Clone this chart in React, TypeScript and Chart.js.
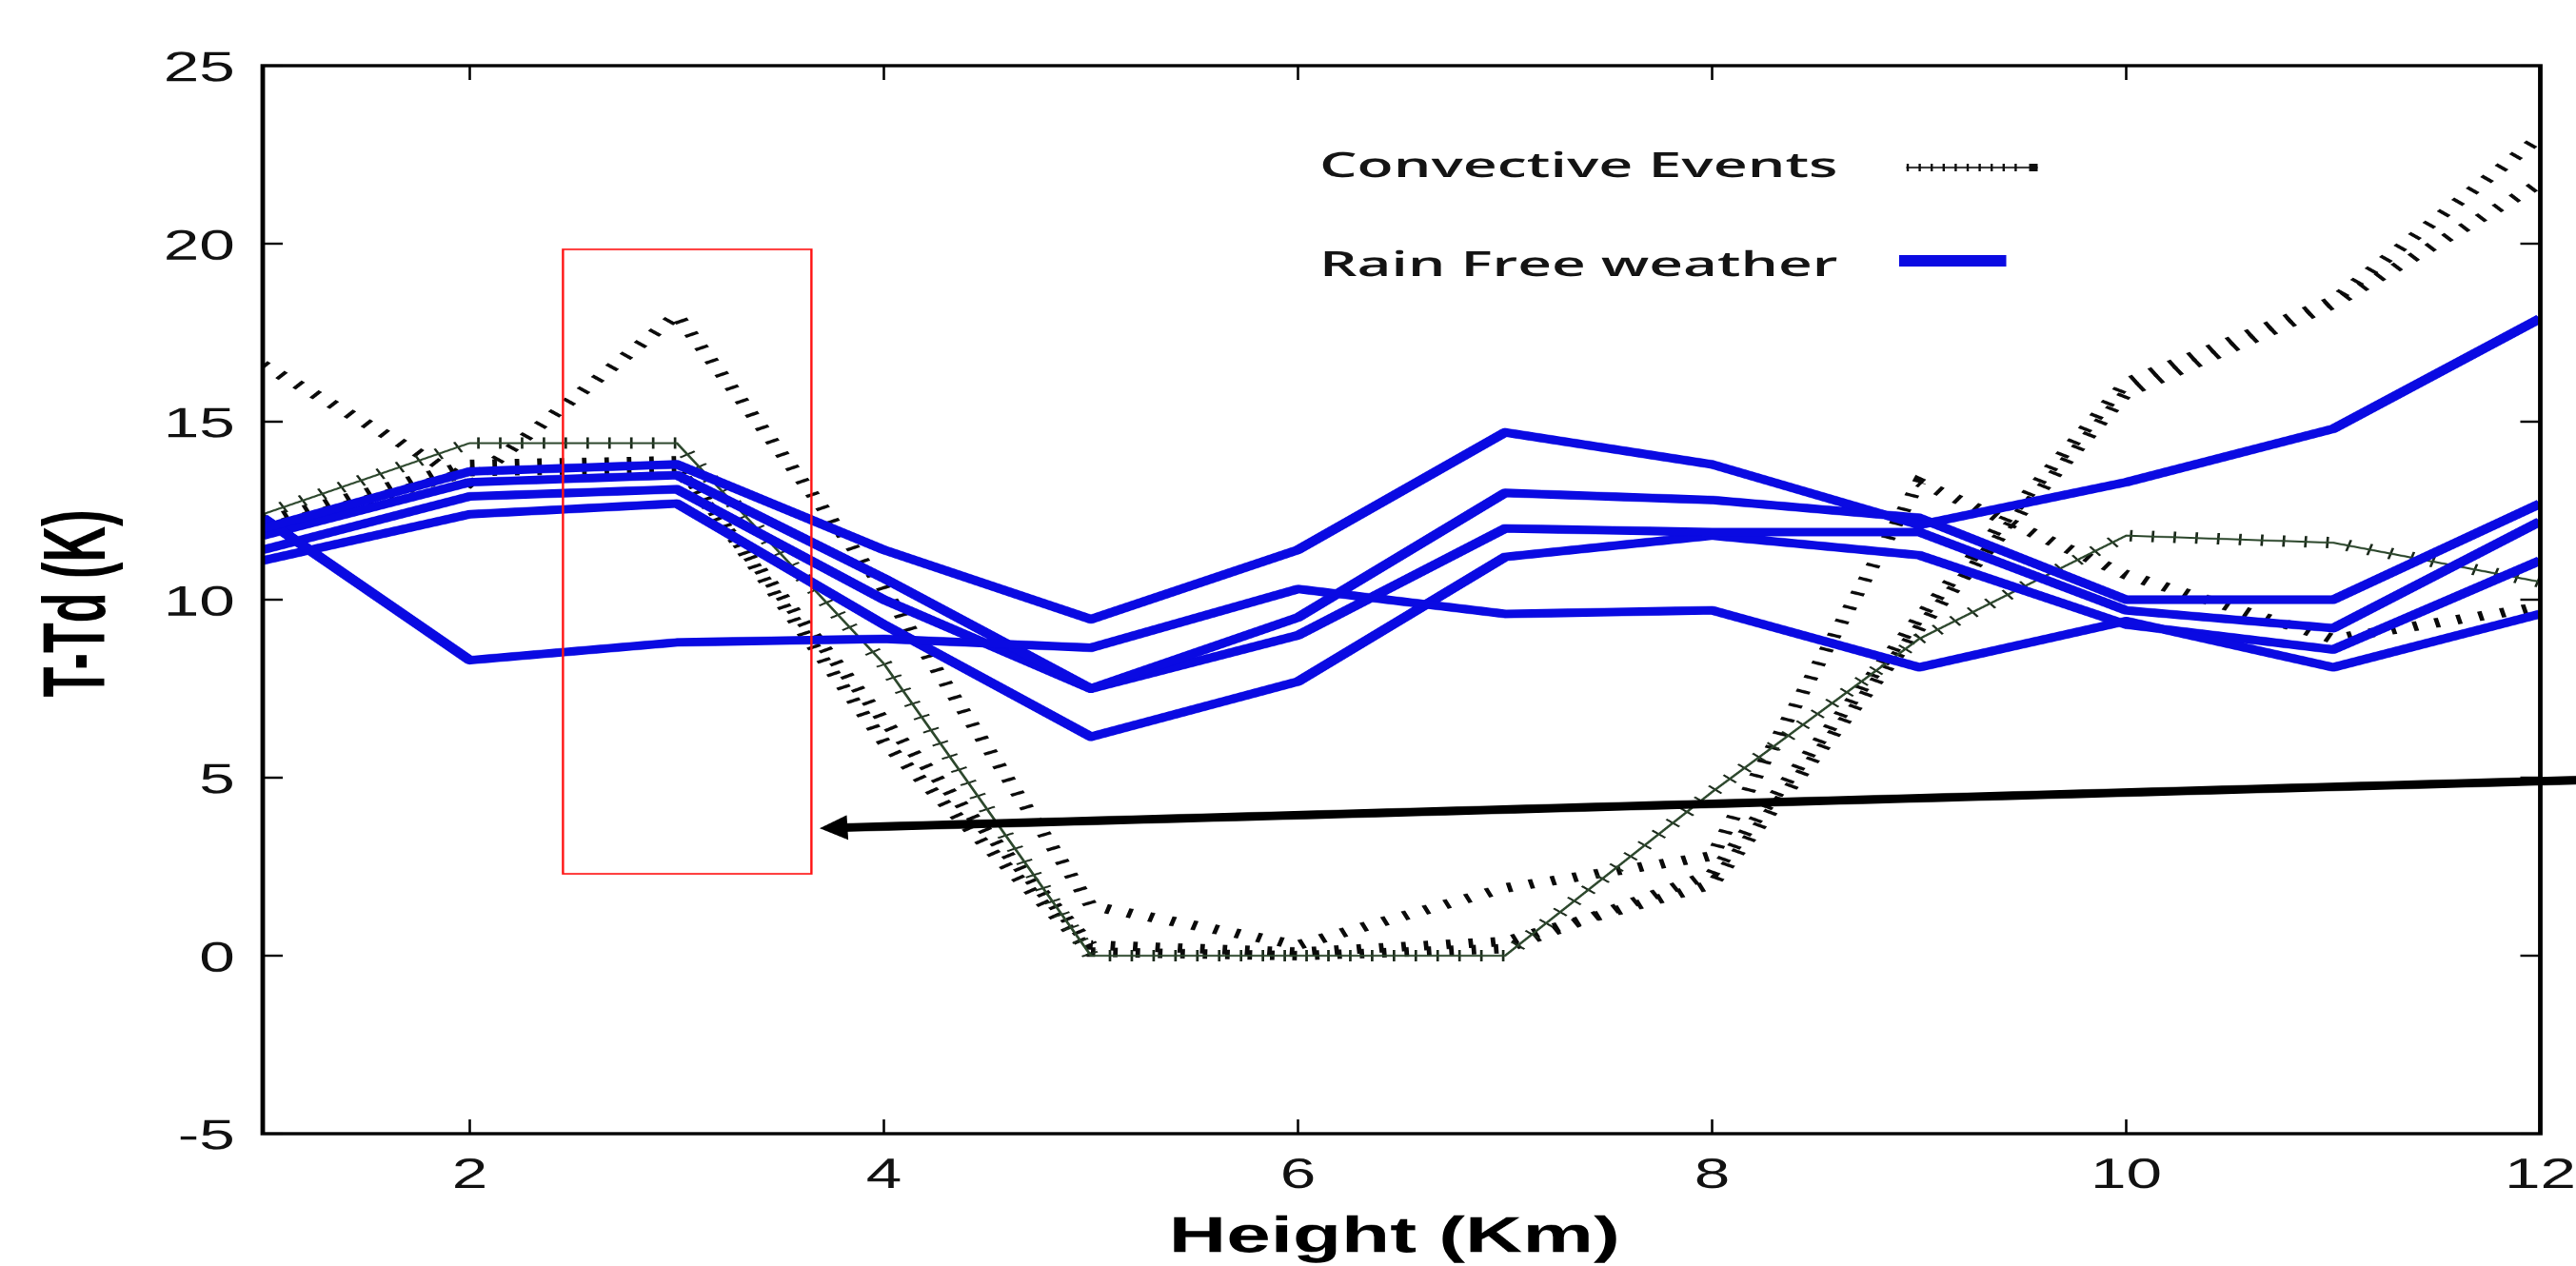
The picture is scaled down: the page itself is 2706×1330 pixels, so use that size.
import React, { useEffect, useRef } from 'react';
import { Chart, registerables } from 'chart.js';

Chart.register(...registerables);

// ---------- data ----------
const HEIGHTS = [1, 2, 3, 4, 5, 6, 7, 8, 9, 10, 11, 12];

// Rain free weather profiles (blue)
const RAIN_FREE_1 = [12.0, 13.6, 13.8, 11.4, 9.45, 11.4, 14.7, 13.8, 12.1, 13.3, 14.8, 17.9];
const RAIN_FREE_2 = [12.3, 8.3, 8.8, 8.9, 8.65, 10.3, 9.6, 9.7, 8.1, 9.4, 8.1, 9.6];
const RAIN_FREE_3 = [11.8, 13.3, 13.5, 10.6, 7.5, 9.5, 13.0, 12.8, 12.3, 10.0, 10.0, 12.7];
const RAIN_FREE_4 = [11.4, 12.9, 13.1, 10.0, 7.5, 9.0, 12.0, 11.9, 11.9, 9.7, 9.2, 12.2];
const RAIN_FREE_5 = [11.1, 12.4, 12.7, 9.3, 6.15, 7.7, 11.2, 11.8, 11.25, 9.3, 8.6, 11.1];

// Convective events profiles (black hatched + green crossed)
const CONVECTIVE_A = [16.6, 13.3, 18.0, 10.3, 1.4, 0.3, 1.9, 2.8, 13.3, 10.7, 8.9, 9.8];
const CONVECTIVE_B = [12.2, 13.8, 13.9, 6.0, 0.1, 0.0, 0.2, 2.3, 9.5, 16.1, 18.4, 23.0];
const CONVECTIVE_C = [12.0, 13.6, 13.7, 6.6, 0.3, 0.1, 0.4, 2.0, 9.2, 15.8, 18.3, 21.7];
const CONVECTIVE_G = [12.4, 14.4, 14.4, 8.2, 0.0, 0.0, 0.0, 4.6, 8.9, 11.8, 11.6, 10.5];

const X_TICKS = [2, 4, 6, 8, 10, 12];
const Y_TICKS = [-5, 0, 5, 10, 15, 20, 25];
const X_RANGE = [1, 12];
const Y_RANGE = [-5, 25];

const X_TITLE = 'Height (Km)';
const Y_TITLE = 'T-Td (K)';
const LEGEND_LABELS = ['Convective Events', 'Rain Free weather'];

// annotation (data coordinates)
const BOX_X = [2.45, 3.65];
const BOX_Y = [2.3, 19.84];
const ARROW_TAIL = [12.3, 4.95];
const ARROW_TIP = [3.69, 3.58];

// ---------- styling ----------
const STRETCH = 1.5;
const FULL_W = 2706;
const H = 1330;
const W = FULL_W / STRETCH; // 1804 logical
const BLUE = 'rgb(10,10,226)';

const toPts = (ys: number[]) => HEIGHTS.map((h, i) => ({ x: h, y: ys[i] }));

const blueSet = (label: string, ys: number[]) => ({
  label,
  data: toPts(ys),
  borderColor: BLUE,
  backgroundColor: BLUE,
  borderWidth: 9,
  borderJoinStyle: 'round' as const,
  pointRadius: 0,
  order: 0,
});

const hatchSet = (label: string, ys: number[]) => ({
  label,
  data: toPts(ys),
  borderColor: '#0a0a0a',
  borderWidth: 10,
  borderDash: [3.2, 12.5],
  borderCapStyle: 'butt' as const,
  pointRadius: 0,
  order: 3,
});

function line(ctx: CanvasRenderingContext2D, x0: number, y0: number, x1: number, y1: number) {
  ctx.beginPath();
  ctx.moveTo(x0, y0);
  ctx.lineTo(x1, y1);
  ctx.stroke();
}

function fitText(
  ctx: CanvasRenderingContext2D,
  text: string,
  x: number,
  baseline: number,
  width: number,
  align: CanvasTextAlign
) {
  const m = ctx.measureText(text).width;
  ctx.save();
  ctx.translate(x, baseline);
  ctx.scale(width / m, 1);
  ctx.textAlign = align;
  ctx.textBaseline = 'alphabetic';
  ctx.fillText(text, 0, 0);
  ctx.restore();
}

const decor = {
  id: 'decor',
  afterDraw(chart: any) {
    const { ctx, chartArea: a, scales } = chart;
    const xs = scales.x;
    const ys = scales.y;
    ctx.save();

    // red highlight box
    ctx.strokeStyle = '#ff1414';
    ctx.lineWidth = 1.6;
    const bx0 = xs.getPixelForValue(BOX_X[0]);
    const bx1 = xs.getPixelForValue(BOX_X[1]);
    const by0 = ys.getPixelForValue(BOX_Y[1]);
    const by1 = ys.getPixelForValue(BOX_Y[0]);
    ctx.strokeRect(bx0, by0, bx1 - bx0, by1 - by0);

    // arrow
    const tx = xs.getPixelForValue(ARROW_TIP[0]);
    const ty = ys.getPixelForValue(ARROW_TIP[1]);
    const sx = xs.getPixelForValue(ARROW_TAIL[0]);
    const sy = ys.getPixelForValue(ARROW_TAIL[1]);
    const dx = sx - tx;
    const dy = sy - ty;
    const len = Math.hypot(dx, dy);
    const ux = dx / len;
    const uy = dy / len;
    const headL = 19.5;
    const headW = 13;
    ctx.strokeStyle = '#000';
    ctx.fillStyle = '#000';
    ctx.lineWidth = 9;
    line(ctx, tx + ux * headL * 0.8, ty + uy * headL * 0.8, sx, sy);
    ctx.beginPath();
    ctx.moveTo(tx, ty);
    ctx.lineTo(tx + ux * headL - uy * headW, ty + uy * headL + ux * headW);
    ctx.lineTo(tx + ux * headL + uy * headW, ty + uy * headL - ux * headW);
    ctx.closePath();
    ctx.fill();

    // frame
    ctx.strokeStyle = '#000';
    ctx.lineWidth = 3.2;
    ctx.strokeRect(a.left, a.top, a.right - a.left, a.bottom - a.top);

    // ticks
    ctx.lineWidth = 2.4;
    for (const v of Y_TICKS) {
      const py = ys.getPixelForValue(v);
      line(ctx, a.left, py, a.left + 14, py);
      line(ctx, a.right, py, a.right - 14, py);
    }
    ctx.lineWidth = 1.7;
    for (const v of X_TICKS) {
      const px = xs.getPixelForValue(v);
      line(ctx, px, a.bottom, px, a.bottom - 15);
      line(ctx, px, a.top, px, a.top + 15);
    }

    // tick labels
    ctx.fillStyle = '#111';
    ctx.font = '45px "Liberation Sans", Arial, sans-serif';
    ctx.textBaseline = 'alphabetic';
    ctx.textAlign = 'right';
    for (const v of Y_TICKS) {
      ctx.fillText(String(v), a.left - 19.5, ys.getPixelForValue(v) + 16.5);
    }
    ctx.textAlign = 'center';
    for (const v of X_TICKS) {
      ctx.fillText(String(v), xs.getPixelForValue(v), a.bottom + 57);
    }

    // x title
    ctx.fillStyle = '#000';
    ctx.font = 'bold 53px "Liberation Sans", Arial, sans-serif';
    fitText(ctx, X_TITLE, (a.left + a.right) / 2 - 5, a.bottom + 124, 316, 'center');

    // y title (rotated)
    ctx.save();
    ctx.translate(73.3, 634);
    ctx.rotate(-Math.PI / 2);
    ctx.font = 'bold 52px "Liberation Sans", Arial, sans-serif';
    const ym = ctx.measureText(Y_TITLE).width;
    ctx.scale(197 / ym, 44.6 / (0.716 * 52));
    ctx.textAlign = 'center';
    ctx.textBaseline = 'alphabetic';
    ctx.fillText(Y_TITLE, 0, 0);
    ctx.restore();

    // legend
    ctx.fillStyle = '#141414';
    ctx.font = '600 36px "Open Sans", "Noto Sans", sans-serif';
    fitText(ctx, LEGEND_LABELS[0], 924, 186, 363, 'left');
    fitText(ctx, LEGEND_LABELS[1], 924, 290, 363, 'left');

    ctx.strokeStyle = '#101010';
    ctx.lineWidth = 1.8;
    line(ctx, 1335, 176, 1427, 176);
    ctx.lineWidth = 1.6;
    for (let xx = 1336; xx <= 1420; xx += 8.4) line(ctx, xx, 172, xx, 180);
    ctx.fillStyle = '#101010';
    ctx.fillRect(1421, 172, 6, 8);

    ctx.strokeStyle = BLUE;
    ctx.lineWidth = 12;
    line(ctx, 1330, 274, 1405, 274);

    ctx.restore();
  },
};

export default function App() {
  const ref = useRef<HTMLCanvasElement | null>(null);

  useEffect(() => {
    document.body.style.margin = '0';
    const canvas = ref.current;
    if (!canvas) return;
    const chart = new Chart(canvas, {
      type: 'line',
      data: {
        datasets: [
          blueSet(LEGEND_LABELS[1], RAIN_FREE_1),
          blueSet(LEGEND_LABELS[1], RAIN_FREE_2),
          blueSet(LEGEND_LABELS[1], RAIN_FREE_3),
          blueSet(LEGEND_LABELS[1], RAIN_FREE_4),
          blueSet(LEGEND_LABELS[1], RAIN_FREE_5),
          {
            label: LEGEND_LABELS[0],
            data: toPts(CONVECTIVE_G),
            borderColor: '#2c472c',
            borderWidth: 2,
            pointRadius: 0,
            order: 1,
          },
          {
            label: LEGEND_LABELS[0],
            data: toPts(CONVECTIVE_G),
            borderColor: '#1b291b',
            borderWidth: 12,
            borderDash: [1.8, 13.5],
            borderCapStyle: 'butt',
            pointRadius: 0,
            order: 1,
          },
          hatchSet(LEGEND_LABELS[0], CONVECTIVE_A),
          hatchSet(LEGEND_LABELS[0], CONVECTIVE_B),
          hatchSet(LEGEND_LABELS[0], CONVECTIVE_C),
        ] as any,
      },
      options: {
        animation: false,
        responsive: false,
        devicePixelRatio: 1.5,
        events: [],
        layout: { padding: { left: 184, right: 25, top: 69, bottom: 139 } },
        scales: {
          x: { type: 'linear', min: X_RANGE[0], max: X_RANGE[1], display: false },
          y: { type: 'linear', min: Y_RANGE[0], max: Y_RANGE[1], display: false },
        },
        plugins: { legend: { display: false }, tooltip: { enabled: false } },
        elements: { point: { radius: 0 }, line: { tension: 0 } },
      },
      plugins: [decor],
    });
    return () => chart.destroy();
  }, []);

  return (
    <div style={{ width: FULL_W, height: H, overflow: 'hidden', background: '#fff' }}>
      <div style={{ width: W, height: H, transform: `scaleX(${STRETCH})`, transformOrigin: '0 0' }}>
        <canvas ref={ref} width={W} height={H} style={{ display: 'block' }} />
      </div>
    </div>
  );
}
